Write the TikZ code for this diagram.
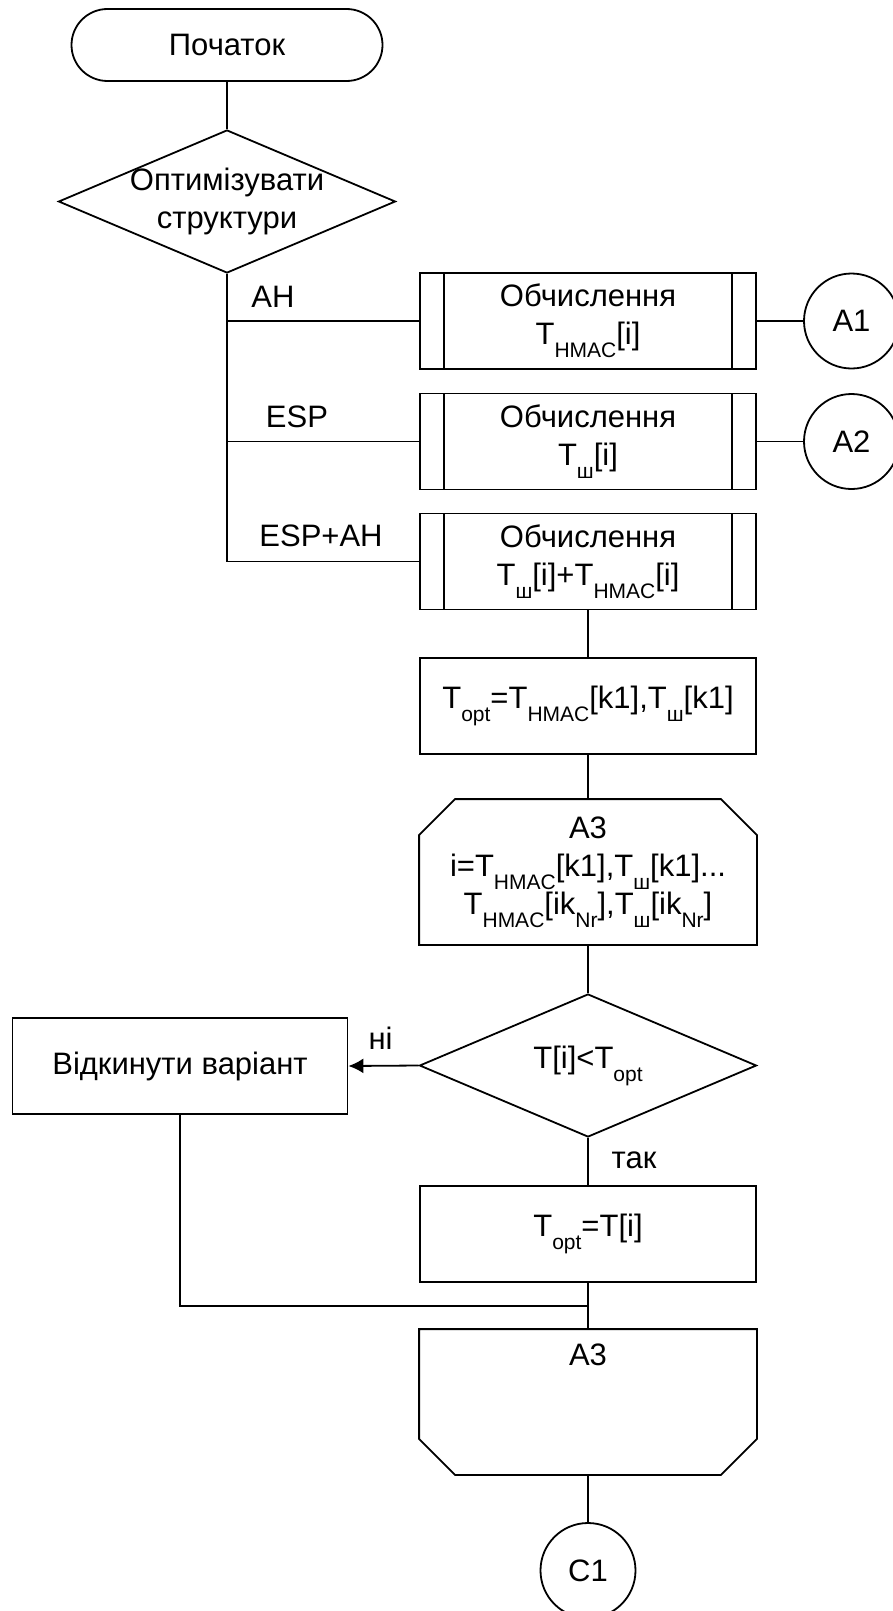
\documentclass[tikz,border=0pt]{standalone}
\usepackage{fontspec}
\setmainfont{Liberation Sans}
\usetikzlibrary{shapes.geometric,arrows.meta,calc}
\newcommand{\lowix}[1]{\raisebox{-0.42em}{\fontsize{21pt}{21pt}\selectfont #1}}
\tikzset{>={Latex[length=15pt,width=15pt]}}
\tikzset{
  every node/.style={font=\fontsize{31pt}{38pt}\selectfont},
  terminal/.style={draw,rectangle,rounded corners=36pt,minimum width=311pt,minimum height=72pt},
  decision/.style={draw,diamond,inner sep=0pt,minimum width=337pt,minimum height=143pt},
  process/.style={draw,rectangle,minimum width=336pt,minimum height=96pt,align=center},
  subproc/.style={process,path picture={
      \draw ([xshift=24pt]path picture bounding box.north west) -- ([xshift=24pt]path picture bounding box.south west);
      \draw ([xshift=-24pt]path picture bounding box.north east) -- ([xshift=-24pt]path picture bounding box.south east);}},
  connector/.style={draw,circle,inner sep=0pt,minimum size=95pt},
  loopbox/.style={rectangle,minimum width=336pt,minimum height=144pt,align=center},
}

\begin{document}
\begin{tikzpicture}[x=1pt,y=-1pt,line width=1.8pt]
  \useasboundingbox (0,0) rectangle (892,1611);

  % upper part: choice of structure
  \node[terminal] (start) at (227,45) {Початок};
  \node[decision,label={[align=center]center:{Оптимізувати\\структури}}] (opt) at (227,201.5) {};

  \node[subproc] (hmac) at (588,321) {Обчислення\\T\lowix{HMAC}[i]};
  \node[subproc] (shp) at (588,441.5) {Обчислення\\T\lowix{ш}[i]};
  \node[subproc] (both) at (588,561.5) {Обчислення\\T\lowix{ш}[i]+T\lowix{HMAC}[i]};
  \node[connector] (a1) at (851.5,321) {A1};
  \node[connector] (a2) at (851.5,441.5) {A2};

  \node (lah) at (273,297) {AH};
  \node (lesp) at (297,417) {ESP};
  \node (lboth) at (321,536) {ESP+AH};

  % search loop
  \node[process] (kopt) at (588,706) {T\lowix{opt}=T\lowix{HMAC}[k1],T\lowix{ш}[k1]};
  \node[loopbox] (lbeg) at (588,872) {A3\\i=T\lowix{HMAC}[k1],T\lowix{ш}[k1]...\\T\lowix{HMAC}[ik\lowix{Nr}],T\lowix{ш}[ik\lowix{Nr}]};
  \node[decision,label=center:{T[i]<T\lowix{opt}}] (cmp) at (588,1065.5) {};
  \node[process,minimum width=335pt] (rej) at (180,1066) {Відкинути варіант};
  \node[process] (keep) at (588,1234) {T\lowix{opt}=T[i]};
  \node[loopbox,label={[anchor=north,yshift=-14pt,inner sep=0pt]north:A3}] (lend) at (588,1402) {};
  \node[connector] (c1) at (588,1570.5) {C1};

  \node (lno) at (380.5,1038) {ні};
  \node (lyes) at (634,1160) {так};

  % loop limit outlines
  \draw ([yshift=-36pt]lbeg.north west) -- ([xshift=36pt]lbeg.north west) -- ([xshift=-36pt]lbeg.north east)
    -- ([yshift=-36pt]lbeg.north east) -- (lbeg.south east) -- (lbeg.south west) -- cycle;
  \draw (lend.north west) -- (lend.north east) -- ([yshift=36pt]lend.south east) -- ([xshift=-36pt]lend.south east)
    -- ([xshift=36pt]lend.south west) -- ([yshift=36pt]lend.south west) -- cycle;

  % lines
  \draw (start) -- (opt);
  \draw (opt.south) |- (both.west);
  \draw (opt.south |- hmac.west) -- (hmac.west);
  \draw (opt.south |- shp.west) -- (shp.west);
  \draw (hmac) -- (a1);
  \draw (shp) -- (a2);
  \draw (both) -- (kopt);
  \draw (kopt) -- (lbeg.north);
  \draw (lbeg.south) -- (cmp.north);
  \draw[->] (cmp.west) -- (rej.east);
  \draw (cmp.south) -- (keep.north);
  \draw (keep.south) -- (lend.north);
  \coordinate (join) at ($(keep.south)!0.5!(lend.north)$);
  \draw (rej.south) |- (join);
  \draw (lend.south) -- (c1.north);
\end{tikzpicture}
\end{document}
